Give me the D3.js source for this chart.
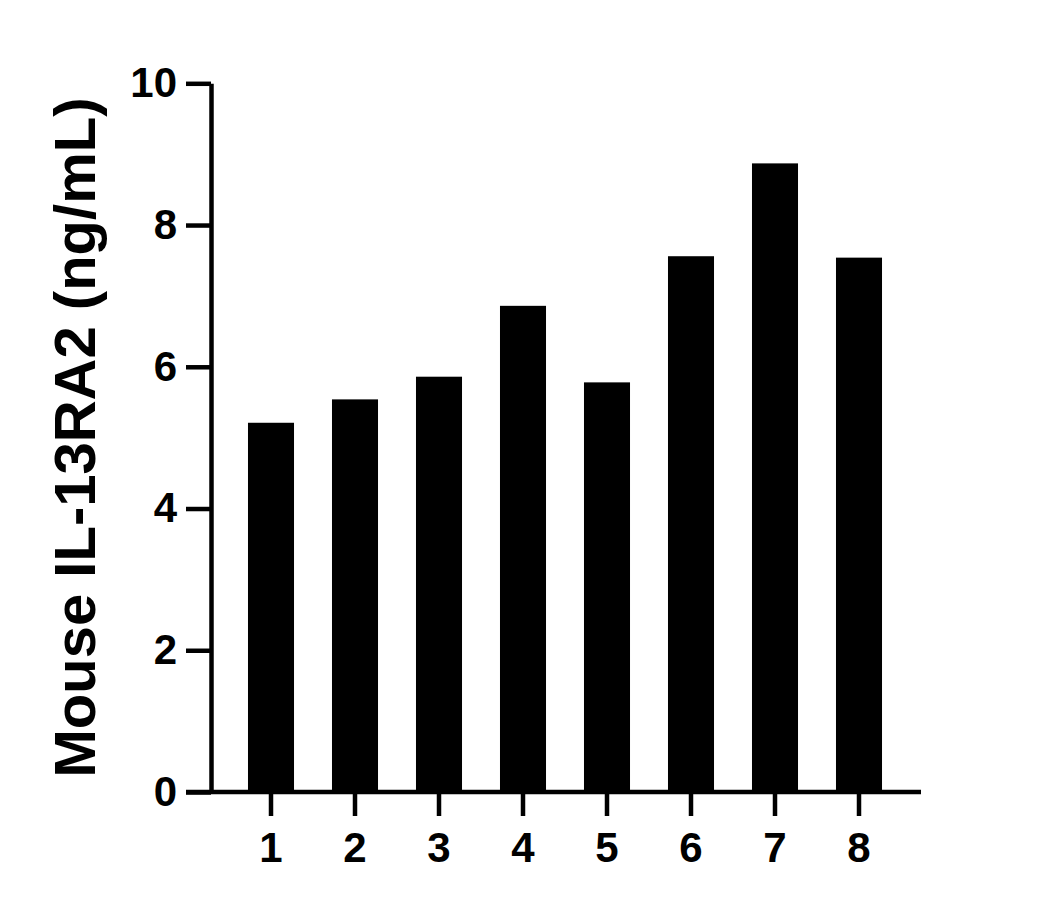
<!DOCTYPE html>
<html lang="en">
<head>
    <meta charset="UTF-8">
    <title>Mouse IL-13RA2</title>
    <script src="https://d3js.org/d3.v7.min.js"></script>
    <style>
        body {
            margin: 0;
            background: #fff;
        }
        svg text {
            font-family: Arial, "Liberation Sans", sans-serif;
            font-weight: bold;
            fill: #000;
        }
        .axis path, .axis line {
            stroke: #000;
            stroke-width: 4.5;
        }
    </style>
</head>
<body>
<div id="chart"></div>
<script>

const samples = ["1", "2", "3", "4", "5", "6", "7", "8"];
const values = [5.21, 5.54, 5.86, 6.86, 5.78, 7.56, 8.87, 7.54];
const yTicks = [0, 2, 4, 6, 8, 10];

const W = 1053, H = 909;

const svg = d3.select("#chart")
    .append("svg")
    .attr("width", W)
    .attr("height", H);

const yScale = d3.scaleLinear()
    .domain([0, 10])
    .range([792, 83.3]);

const xScale = d3.scaleBand()
    .domain(samples)
    .range([229, 901])
    .paddingInner(0.452)
    .paddingOuter(0.226);

const axisX = 211;

// bars
svg.selectAll(".bar")
    .data(values)
    .enter()
    .append("rect")
    .attr("class", "bar")
    .attr("x", (d, i) => xScale(samples[i]))
    .attr("y", d => yScale(d))
    .attr("width", xScale.bandwidth())
    .attr("height", d => yScale(0) - yScale(d))
    .attr("fill", "#000");

// y axis
const gy = svg.append("g")
    .attr("class", "axis")
    .attr("transform", `translate(${axisX},0)`)
    .call(d3.axisLeft(yScale)
        .tickValues(yTicks)
        .tickSize(25)
        .tickSizeOuter(0)
        .tickPadding(9)
        .tickFormat(d3.format("d")));
gy.selectAll("text").style("font-size", "42px");

// x axis
const gx = svg.append("g")
    .attr("class", "axis")
    .attr("transform", `translate(0,${yScale(0)})`)
    .call(d3.axisBottom(xScale)
        .tickSize(24)
        .tickSizeOuter(0)
        .tickPadding(16));
gx.select(".domain").remove();
gx.selectAll("text").style("font-size", "42px");

gx.append("line")
    .attr("x1", axisX - 25)
    .attr("x2", 921)
    .attr("y1", 0)
    .attr("y2", 0);

// y label
svg.append("text")
    .attr("transform", `translate(95, 437.5) rotate(-90)`)
    .attr("text-anchor", "middle")
    .style("font-size", "58px")
    .text("Mouse IL-13RA2 (ng/mL)");
</script>
</body>
</html>
